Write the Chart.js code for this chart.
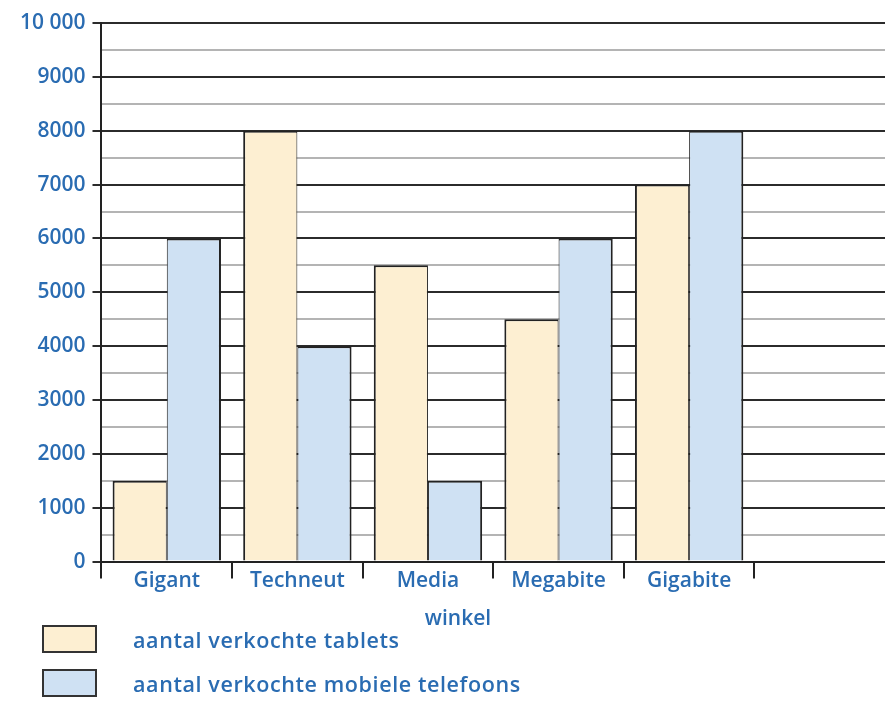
<!DOCTYPE html>
<html>
<head>
<meta charset="utf-8">
<script src="https://cdn.jsdelivr.net/npm/chart.js@4/dist/chart.umd.min.js"></script>
<style>
  html, body { margin: 0; padding: 0; background: #fff; }
  #wrap { position: relative; width: 885px; height: 704px; }
  #legend { position: absolute; left: 0; top: 0; width: 885px; height: 704px; pointer-events: none; }
  .item { position: absolute; left: 42px; height: 28px; display: flex; align-items: center; }
  .box { width: 51px; height: 24px; border: 2px solid #333; box-sizing: content-box; }
  .lbl { position: absolute; left: 91px; white-space: nowrap; font: 600 21.5px "Open Sans", sans-serif; letter-spacing: 0.6px; color: #2a6cb2; }
</style>
</head>
<body>
<div id="wrap">
  <canvas id="chart" width="885" height="704"></canvas>
  <div id="legend"></div>
</div>
<script>
const categories = ["Gigant", "Techneut", "Media", "Megabite", "Gigabite", ""];
const tablets = [1500, 8000, 5500, 4500, 7000, null];
const phones = [6000, 4000, 1500, 6000, 8000, null];
const yTickLabels = ["0", "1000", "2000", "3000", "4000", "5000", "6000", "7000", "8000", "9000", "10 000"];
const seriesNames = ["aantal verkochte tablets", "aantal verkochte mobiele telefoons"];
const seriesColors = ["#fdefd2", "#cfe1f3"];
const xTitle = "winkel";

const blue = "#2a6cb2";
const yFont = { family: "'Open Sans', sans-serif", size: 21, weight: "600", lineHeight: 1 };
const xFont = { family: "'Open Sans', sans-serif", size: 21, weight: "600" };

// x-axis title sits a bit left of the axis centre in the original
const xTitlePlugin = {
  id: "xTitle",
  afterDraw(chart) {
    const { ctx, chartArea } = chart;
    ctx.save();
    ctx.font = `600 21px 'Open Sans', sans-serif`;
    ctx.fillStyle = blue;
    ctx.textAlign = "center";
    ctx.textBaseline = "middle";
    ctx.fillText(xTitle, chartArea.left + chartArea.width * 0.455, chartArea.bottom + 57);
    ctx.restore();
  },
};

new Chart(document.getElementById("chart"), {
  type: "bar",
  data: {
    labels: categories,
    datasets: [
      {
        label: seriesNames[0],
        data: tablets,
        backgroundColor: seriesColors[0],
        borderColor: "#222",
        borderWidth: { top: 2, left: 2, right: 1, bottom: 0 },
        borderSkipped: "bottom",
        barPercentage: 1,
        categoryPercentage: 0.83,
      },
      {
        label: seriesNames[1],
        data: phones,
        backgroundColor: seriesColors[1],
        borderColor: "#222",
        borderWidth: { top: 2, left: 1, right: 2, bottom: 0 },
        borderSkipped: "bottom",
        barPercentage: 1,
        categoryPercentage: 0.83,
      },
    ],
  },
  options: {
    responsive: false,
    animation: false,
    layout: { padding: { top: 23, left: 13, right: 0, bottom: 95 } },
    plugins: {
      legend: { display: false },
      tooltip: { enabled: false },
    },
    scales: {
      x: {
        grid: {
          drawOnChartArea: false,
          drawTicks: true,
          tickLength: 17,
          lineWidth: 2,
          // no tick mark at the far right edge
          color: (c) => (c.type === "tick" && c.index < categories.length ? "#222" : "transparent"),
        },
        border: { display: true, color: "#222", width: 2 },
        ticks: { color: blue, font: xFont, padding: -10 },
        // blank title only reserves room so the tick labels are not clipped
        title: { display: true, text: " ", font: xFont, padding: 0 },
      },
      y: {
        min: 0,
        max: 10000,
        ticks: {
          stepSize: 500,
          autoSkip: false,
          maxTicksLimit: 40,
          color: blue,
          font: yFont,
          padding: 7,
          callback: (v) => (v % 1000 === 0 ? yTickLabels[v / 1000] : ""),
        },
        grid: {
          lineWidth: 2,
          tickLength: 9,
          color: (c) => (c.tick && c.tick.value % 1000 === 0 ? "#2b2b2b" : "#b4b4b4"),
          tickColor: (c) => (c.tick && c.tick.value % 1000 === 0 ? "#2b2b2b" : "transparent"),
        },
        border: { display: true, color: "#222", width: 2 },
      },
    },
  },
  plugins: [xTitlePlugin],
});

// legend boxes below the chart
const legend = document.getElementById("legend");
seriesNames.forEach((name, i) => {
  const item = document.createElement("div");
  item.className = "item";
  item.style.top = 625 + i * 44 + "px";
  item.innerHTML = `<div class="box" style="background:${seriesColors[i]}"></div><span class="lbl">${name}</span>`;
  legend.appendChild(item);
});
</script>
</body>
</html>
